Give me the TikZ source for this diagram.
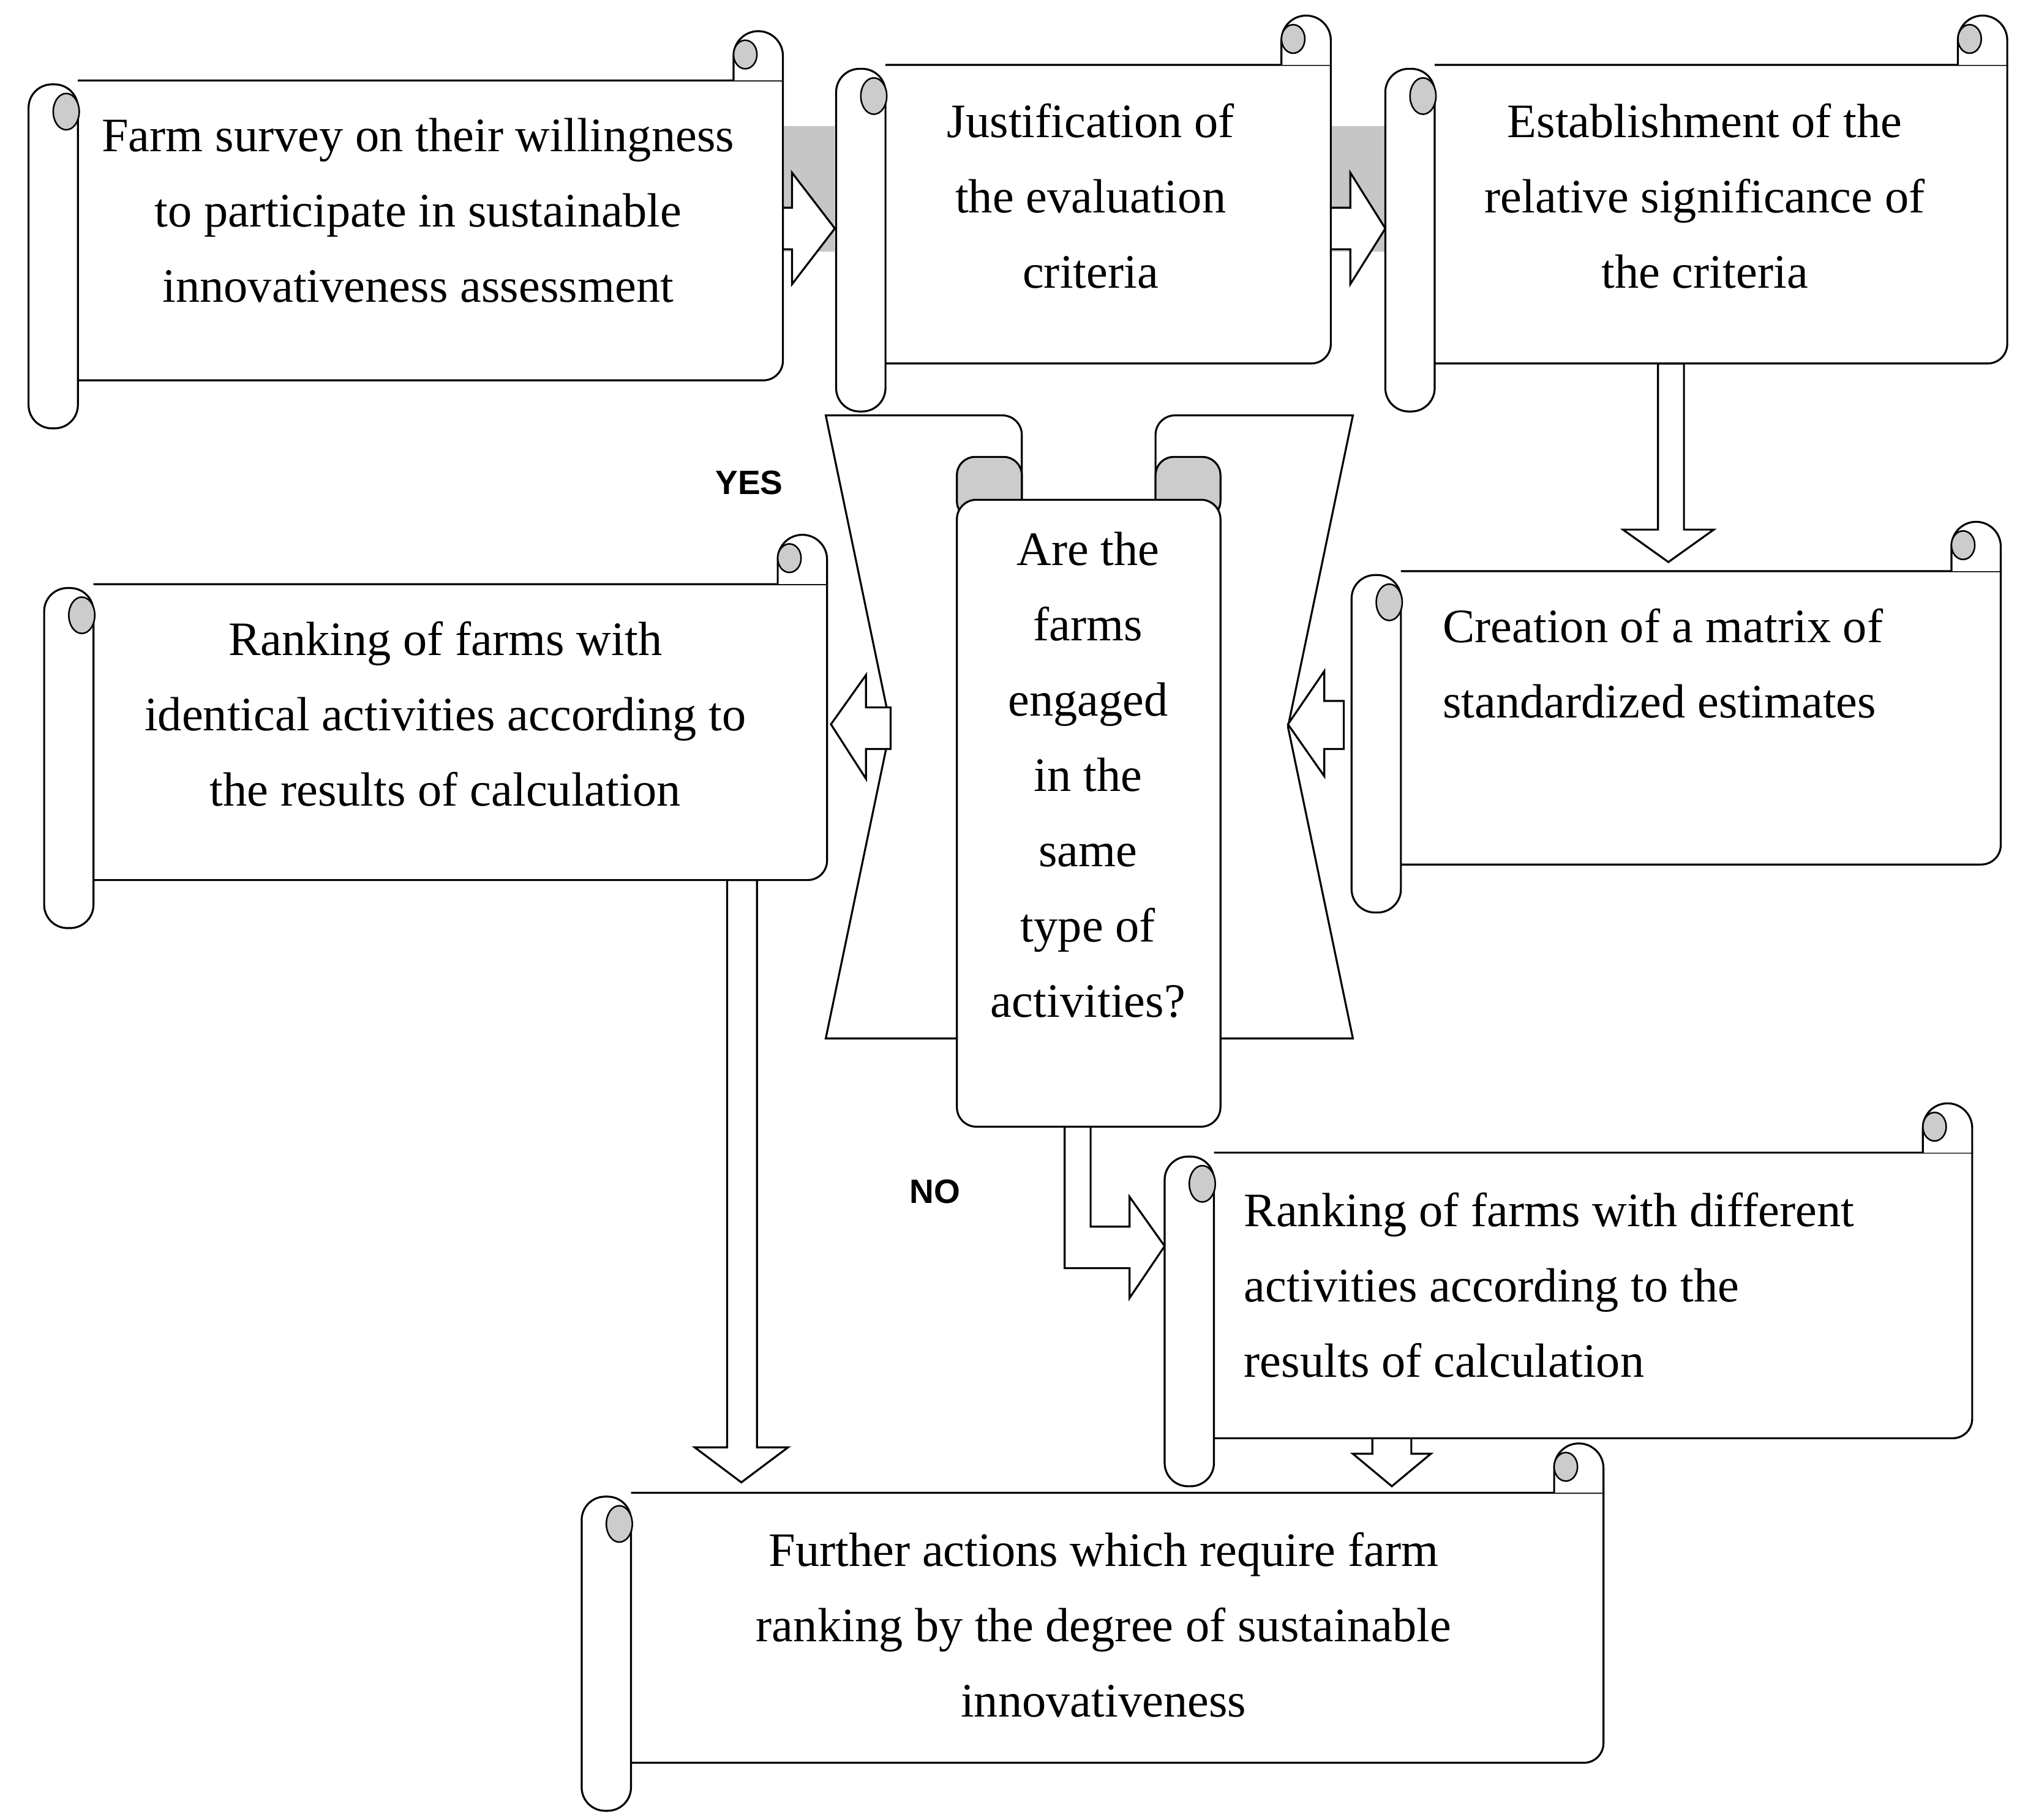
\documentclass[tikz,border=0pt]{standalone}
\usepackage{fontspec}
\setmainfont{Liberation Serif}
\newfontfamily\lsans{Liberation Sans}
\newcommand\hscroll[4]{%
 \draw[fill=white,line width=1.5pt] (#1,{-#2}) -- (#3,{-#2}) -- (#3,{-(#4-15)}) arc[start angle=0,end angle=-90,radius=15] -- (#1,{-#4});
 \draw[fill=white,line width=1.5pt] ({#3-38},{-#2}) -- ({#3-38},{-(#2-19)}) arc[start angle=180,end angle=0,radius=19] -- (#3,{-#2});
 \draw[fill=gray!40,line width=1.2pt] ({#3-29},{-(#2-20)}) ellipse [x radius=9, y radius=11];
 \draw[fill=white,line width=1.5pt,rounded corners=18pt] ({#1-38},{-(#2+3)}) rectangle (#1,{-(#4+37)});
 \draw[fill=gray!40,line width=1.2pt] ({#1-9},{-(#2+24)}) ellipse [x radius=10,y radius=14];
}
\tikzset{txt/.style={font=\fontsize{37}{58}\selectfont,inner sep=0pt,align=center},
 barrow/.style={draw,fill=white,line width=1.5pt}}
\begin{document}
\begin{tikzpicture}[x=1pt,y=1pt]
\useasboundingbox[fill=white] (0,0) rectangle (1562,-1402);
% gray backgrounds of arrows
\fill[gray!45] (603,-97) rectangle (643,-194);
\fill[gray!45] (1025,-97) rectangle (1067,-194);
\draw[barrow] (603,-160)--(610,-160)--(610,-133)--(643,-176)--(610,-219)--(610,-192)--(603,-192)--cycle;
\draw[barrow] (1025,-160)--(1040,-160)--(1040,-133)--(1067,-176)--(1040,-219)--(1040,-192)--(1025,-192)--cycle;
\draw[barrow] (1277,-280)--(1277,-408)--(1250,-408)--(1285,-433)--(1320,-408)--(1297,-408)--(1297,-280)--cycle;
\draw[barrow] (560,-678)--(560,-1115)--(535,-1115)--(571,-1142)--(607,-1115)--(583,-1115)--(583,-678)--cycle;
\draw[barrow] (820,-860)--(820,-977)--(870,-977)--(870,-1000)--(897,-960)--(870,-922)--(870,-945)--(840,-945)--(840,-860)--cycle;
\draw[barrow] (1057,-1100)--(1057,-1120)--(1042,-1120)--(1072,-1145)--(1102,-1120)--(1087,-1120)--(1087,-1100)--cycle;
% boxes
\hscroll{60}{62}{603}{293}
\hscroll{682}{50}{1025}{280}
\hscroll{1105}{50}{1546}{280}
\hscroll{72}{450}{637}{678}
\hscroll{1079}{440}{1541}{666}
\hscroll{935}{888}{1519}{1108}
\hscroll{486}{1150}{1235}{1358}
% hourglass
\draw[fill=white,line width=1.5pt] (636,-320) -- (772,-320) arc[start angle=90,end angle=0,radius=15] -- (787,-800) -- (636,-800) -- (686,-560) -- cycle;
\draw[fill=white,line width=1.5pt] (1042,-320) -- (905,-320) arc[start angle=90,end angle=180,radius=15] -- (890,-800) -- (1042,-800) -- (992,-560) -- cycle;
\draw[barrow] (1035,-540)--(1020,-540)--(1020,-517)--(992,-558)--(1020,-598)--(1020,-577)--(1035,-577)--cycle;
\draw[barrow] (686,-545)--(667,-545)--(667,-520)--(640,-558)--(667,-600)--(667,-577)--(686,-577)--cycle;
\draw[fill=gray!40,line width=1.5pt,rounded corners=14pt] (737,-352) rectangle (787,-400);
\draw[fill=gray!40,line width=1.5pt,rounded corners=14pt] (890,-352) rectangle (940,-400);
\draw[fill=white,line width=1.5pt,rounded corners=15pt] (737,-385) rectangle (940,-868);
% texts
\node[txt] (t1) at (322,-162) {Farm survey on their willingness\\to participate in sustainable\\innovativeness assessment};
\node[txt] (t2) at (840,-151) {Justification of\\the evaluation\\criteria};
\node[txt] (t3) at (1313,-151) {Establishment of the\\relative significance of\\the criteria};
\node[txt] (t4) at (343,-550) {Ranking of farms with\\identical activities according to\\the results of calculation};
\node[txt,align=left,anchor=west] (t5) at (1111,-511) {Creation of a matrix of\\standardized estimates};
\node[txt,align=left,anchor=west] (t6) at (958,-990) {Ranking of farms with different\\activities according to the\\results of calculation};
\node[txt] (t7) at (850,-1252) {Further actions which require farm\\ranking by the degree of sustainable\\innovativeness};
\node[txt] (t8) at (838,-597) {Are the\\farms\\engaged\\in the\\same\\type of\\activities?};
\node[font=\lsans\bfseries\fontsize{26}{30}\selectfont] (yes) at (577,-372) {YES};
\node[font=\lsans\bfseries\fontsize{26}{30}\selectfont] (no) at (720,-918) {NO};
\end{tikzpicture}
\end{document}
